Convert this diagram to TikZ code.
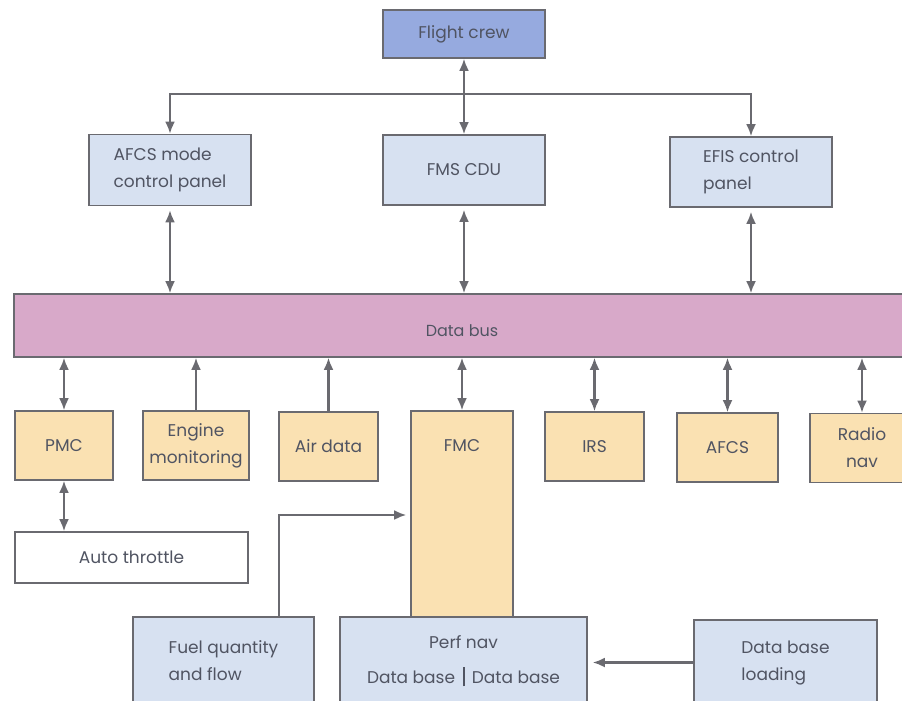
\documentclass[tikz,border=0pt]{standalone}
\usepackage{fontspec}
\setmainfont{Poppins}
\usetikzlibrary{arrows.meta}

\definecolor{crewblue}{HTML}{96AADF}
\definecolor{paleblue}{HTML}{D7E1F1}
\definecolor{peach}{HTML}{FAE1B2}
\definecolor{buspink}{HTML}{D8A9C9}
\definecolor{edge}{HTML}{6A6A70}
\definecolor{ink}{HTML}{505462}

\tikzset{
  box/.style={draw=edge, line width=1.6pt, text=ink, inner sep=2pt,
    font=\fontsize{17}{27}\selectfont},
  panel/.style={box, fill=paleblue, align=left},
  unit/.style={box, fill=peach, align=center, minimum height=69pt},
  link/.style={draw=edge, line width=2.2pt},
  onehead/.style={link, -{Latex[length=12pt,width=10pt]}},
  twohead/.style={link, {Latex[length=12pt,width=10pt]}-{Latex[length=12pt,width=10pt]}},
}

\begin{document}
\begin{tikzpicture}[x=1pt, y=-1pt]
\useasboundingbox (0,0) rectangle (902,701);

% crew and cockpit control panels
\node[box, fill=crewblue, minimum width=162pt, minimum height=48pt] (crew) at (464,34) {Flight crew};
\node[panel, minimum width=162pt, minimum height=71pt] (mcp) at (170,170) {AFCS mode\\control panel};
\node[panel, minimum width=162pt, minimum height=70pt] (cdu) at (464,170) {FMS CDU};
\node[panel, minimum width=162pt, minimum height=70pt] (efis) at (751,172) {EFIS control\\panel};

% data bus (label sits a little below the middle of the bar)
\node[box, fill=buspink, minimum width=896pt, minimum height=63pt,
      font=\fontsize{16}{20}\selectfont] (bus) at (462,325.5) {\smash{\raisebox{-11pt}{Data bus}}};

% units on the bus
\node[unit, minimum width=98pt] (pmc) at (64,445.5) {PMC};
\node[unit, minimum width=106pt] (eng) at (196,445.5) {Engine\\monitoring};
\node[unit, minimum width=99pt] (air) at (328.5,446.5) {Air data};
\node[unit, minimum width=102pt, minimum height=206pt] (fmc) at (462,514) {};
\node[text=ink, font=\fontsize{17}{27}\selectfont] (fmclabel) at (462,446) {FMC};
\node[unit, minimum width=99pt] (irs) at (594.5,446.5) {IRS};
\node[unit, minimum width=101pt] (afcs) at (727.5,447.5) {AFCS};
\node[unit, minimum width=104pt] (radio) at (862,448) {Radio\\nav};

% lower blocks
\node[box, fill=white, minimum width=233pt, minimum height=51pt] (auto) at (131.5,557.5) {Auto throttle};
\node[panel, minimum width=181pt, minimum height=88pt] (fuel) at (223.5,661) {Fuel quantity\\and flow};
\node[panel, align=center, minimum width=247pt, minimum height=88pt] (perf) at (463.5,661)
  {Perf nav\\[8pt]Data base \,\rule[-0.3ex]{2pt}{1.15em}\, Data base};
\node[panel, minimum width=183pt, minimum height=85pt] (dbl) at (785.5,662.5) {Data base\\loading};

% crew distribution
\coordinate (hub) at (464,94);
\draw[twohead] (crew.south) -- (cdu.north);
\draw[onehead] (hub) -| (mcp.north);
\draw[onehead] (hub) -| (efis.north);

% panels to bus
\draw[twohead, shorten <=4pt] (mcp.south) -- (mcp.south |- bus.north);
\draw[twohead, shorten <=4pt] (cdu.south) -- (cdu.south |- bus.north);
\draw[twohead, shorten <=4pt] (efis.south) -- (efis.south |- bus.north);

% units to bus
\draw[twohead] (pmc.north) -- (pmc.north |- bus.south);
\draw[onehead] (eng.north) -- (eng.north |- bus.south);
\draw[onehead] (air.north) -- (air.north |- bus.south);
\draw[twohead] (fmc.north) -- (fmc.north |- bus.south);
\draw[twohead] (irs.north) -- (irs.north |- bus.south);
\draw[twohead] (afcs.north) -- (afcs.north |- bus.south);
\draw[twohead] (radio.north) -- (radio.north |- bus.south);

% PMC to auto throttle
\draw[twohead] (pmc.south) -- (pmc.south |- auto.north);

% fuel data into FMC
\coordinate (fbend) at (279,515);
\draw[onehead, shorten >=4pt] (fuel.north -| fbend) -- (fbend) -- (fbend -| fmc.west);

% data base loading into perf nav
\draw[onehead, shorten >=5pt] (dbl.west) -- (dbl.west -| perf.east);
\end{tikzpicture}
\end{document}
